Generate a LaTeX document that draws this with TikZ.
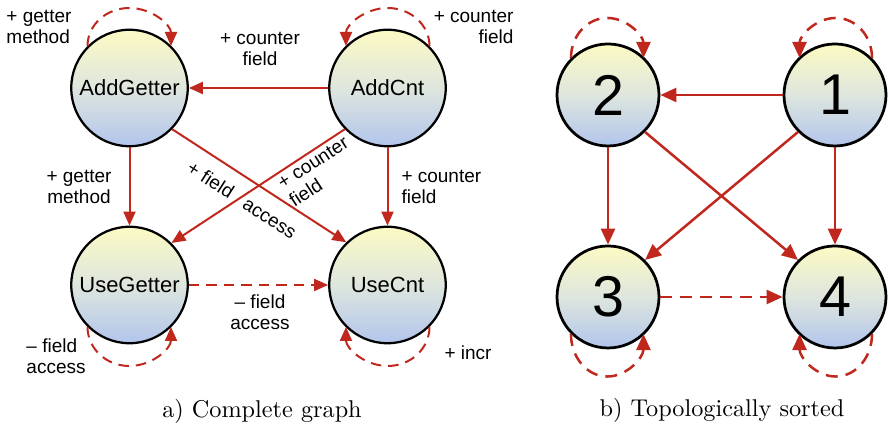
\documentclass[tikz,border=0pt]{standalone}
\usepackage{fontspec}
\usetikzlibrary{arrows.meta}
\newfontfamily\labelfont{Liberation Sans}
\definecolor{edgered}{RGB}{192,40,30}
\definecolor{nodetop}{RGB}{252,250,196}
\definecolor{nodemid}{RGB}{222,230,222}
\definecolor{nodebot}{RGB}{178,197,236}
\tikzset{
  state/.style={circle, draw=black, line width=0.9pt,
    top color=nodetop, bottom color=nodebot, middle color=nodemid,
    minimum size=46.6pt, inner sep=0pt,
    font=\labelfont\fontsize{8.8}{10}\selectfont},
  numstate/.style={state, line width=1.1pt, minimum size=40.8pt,
    font=\labelfont\fontsize{23}{26}\selectfont},
  dep/.style={draw=edgered, line width=0.8pt,
    -{Triangle[length=5.6pt,width=4.8pt]}},
  softdep/.style={dep, dash pattern=on 4.2pt off 2.8pt},
  bigdep/.style={draw=edgered, line width=1pt,
    -{Triangle[length=6.4pt,width=5.6pt]}},
  bigsoftdep/.style={bigdep, dash pattern=on 4.8pt off 3.2pt},
  lbl/.style={font=\labelfont\fontsize{7.6}{8.6}\selectfont, inner sep=0pt},
  caption/.style={font=\fontsize{9.7}{12}\selectfont, inner sep=0pt}
}
\begin{document}
\begin{tikzpicture}[x=0.4pt, y=0.4pt]
\useasboundingbox (0,0) rectangle (888,430);

% ---------- a) complete graph ----------
\node[state] (ag) at (129.5,342) {AddGetter};
\node[state] (ac) at (387.5,342) {AddCnt};
\node[state] (ug) at (129.5,145) {UseGetter};
\node[state] (uc) at (387.5,145) {UseCnt};

\draw[dep] (ac) -- (ag);
\draw[dep] (ag) -- (ug);
\draw[dep] (ac) -- (uc);
\draw[dep] (ag.-44) -- (uc.134);
\draw[dep] (ac.224) -- (ug.45);
\draw[softdep] (ug) -- (uc);

% self loops
\draw[softdep] (ag.135) arc[start angle=180, end angle=0, x radius=16.7pt, y radius=15.2pt];
\draw[softdep] (ac.45) arc[start angle=0, end angle=180, x radius=16.7pt, y radius=15.2pt];
\draw[softdep] (ug.225) arc[start angle=180, end angle=360, x radius=16.7pt, y radius=15.6pt];
\draw[softdep] (uc.-45) arc[start angle=0, end angle=-180, x radius=16.7pt, y radius=15.6pt];

% edge labels
\node[lbl, align=center] (l1) at (260,381) {+ counter\\field};
\node[lbl, align=left, anchor=west] (l2) at (6,403) {+ getter\\method};
\node[lbl, align=right, anchor=east] (l3) at (514,403) {+ counter\\field};
\node[lbl, align=center] (l4) at (79,243) {+ getter\\method};
\node[lbl, align=left, anchor=west] (l5) at (401,243) {+ counter\\field};
\node[lbl, rotate=-32.6] (l6) at (242,230) {+ field\hspace{6pt}access};
\node[lbl, align=left, rotate=33] (l7) at (319,258) {+ counter\\field};
\node[lbl, align=center] (l8) at (260,118) {– field\\access};
\node[lbl, align=left, anchor=west] (l9) at (26,74) {– field\\access};
\node[lbl, anchor=west] (l10) at (444,77) {+ incr};

\node[caption] (capa) at (262,19) {a) Complete graph};

% ---------- b) topologically sorted ----------
\node[numstate] (n2) at (608,335) {2};
\node[numstate] (n1) at (835,335) {1};
\node[numstate] (n3) at (608,133) {3};
\node[numstate] (n4) at (835,133) {4};

\draw[bigdep] (n1) -- (n2);
\draw[bigdep] (n2) -- (n3);
\draw[bigdep] (n1) -- (n4);
\draw[bigdep] (n2.-45) -- (n4.135);
\draw[bigdep] (n1.225) -- (n3.45);
\draw[bigsoftdep] (n3) -- (n4);

\draw[bigsoftdep] (n2.135) arc[start angle=180, end angle=0, x radius=14.5pt, y radius=16pt];
\draw[bigsoftdep] (n1.45) arc[start angle=0, end angle=180, x radius=14.5pt, y radius=16pt];
\draw[bigsoftdep] (n3.225) arc[start angle=180, end angle=360, x radius=14.5pt, y radius=17pt];
\draw[bigsoftdep] (n4.-45) arc[start angle=0, end angle=-180, x radius=14.5pt, y radius=17pt];

\node[caption] (capb) at (722,20) {b) Topologically sorted};
\end{tikzpicture}
\end{document}
